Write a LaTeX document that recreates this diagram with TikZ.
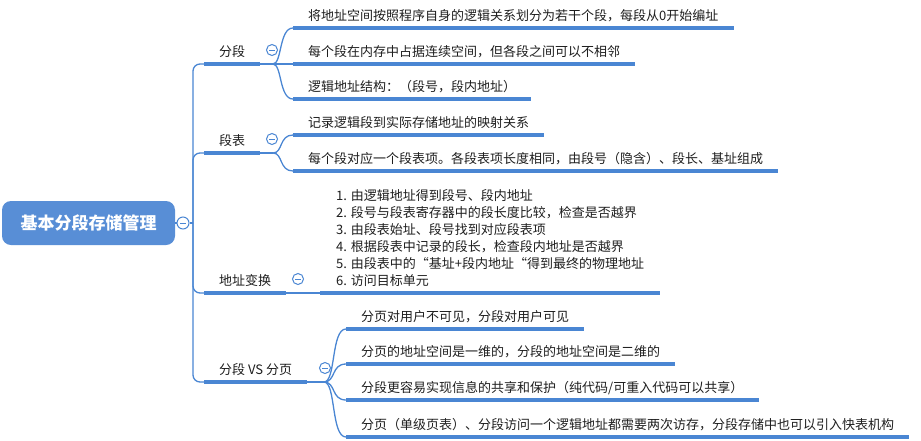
\documentclass[tikz,border=0pt]{standalone}
\usepackage{fontspec}
\setmainfont{Noto Sans CJK SC}
\definecolor{lc}{RGB}{74,134,211}
\definecolor{rootc}{RGB}{88,142,214}
\definecolor{tc}{RGB}{30,30,30}
\tikzset{
 thinline/.style={draw=lc, line width=1.3pt},
 thickline/.style={draw=lc, line width=3.5pt},
 topic/.style={anchor=south west, inner xsep=15pt, inner ysep=4.5pt, text height=9.5pt, text depth=2.5pt, font=\fontsize{13}{16}\selectfont, text=tc},
 multitopic/.style={anchor=south west, inner xsep=16pt, inner ysep=4.5pt, align=left, font=\fontsize{13}{17}\selectfont, text=tc},
 fold/.style={circle, draw=lc, line width=1pt, fill=white, minimum size=11pt, inner sep=0pt,
   path picture={\draw[lc, line width=1pt] ([xshift=-2.6pt]path picture bounding box.center) -- ([xshift=2.6pt]path picture bounding box.center);}},
 rootbox/.style={rectangle, rounded corners=9pt, fill=rootc, text=white, font=\fontsize{17}{20}\selectfont\bfseries, minimum width=173pt, minimum height=44pt, inner sep=0pt},
}
\begin{document}
\begin{tikzpicture}[x=1pt,y=-1pt]
\useasboundingbox (0,0) rectangle (921,440);

% root
\node[rootbox] (root) at (88.5,223) {基本分段存储管理};
\node[fold, minimum size=12pt] (rf) at (183,223) {};
\coordinate (tr) at (193,223);
\draw[thinline] (root.east) -- (rf.west);
\draw[thinline] (rf.east) -- (tr);

% main branches
\node[topic] (fd) at (204,64) {分段};
\node[topic] (db) at (204,153) {段表};
\node[topic] (dz) at (204,293) {地址变换};
\node[topic] (vs) at (204,382) {分段 VS 分页};
\foreach \n in {fd,db,dz,vs}{
  \draw[thinline, rounded corners=7pt] (tr) |- (\n.south west);
  \draw[thickline] (\n.south west) -- (\n.south east);
}
\node[fold] (f1) at (272,50) {};
\node[fold] (f2) at (272,139) {};
\node[fold] (f3) at (298,279) {};
\node[fold] (f4) at (325,368) {};

% 分段 children
\node[topic] (c11) at (293,28) {将地址空间按照程序自身的逻辑关系划分为若干个段，每段从0开始编址};
\node[topic] (c12) at (293,64) {每个段在内存中占据连续空间，但各段之间可以不相邻};
\node[topic] (c13) at (293,99) {逻辑地址结构：（段号，段内地址）};
\coordinate (fdb) at (273,64);
\draw[thinline] (fd.south east) -- (fdb);
\draw[thinline] (fdb) .. controls (282,64) and (279,28) .. (c11.south west);
\draw[thinline] (fdb) -- (c12.south west);
\draw[thinline] (fdb) .. controls (282,64) and (279,99) .. (c13.south west);
\foreach \n in {c11,c12,c13}{\draw[thickline] (\n.south west) -- (\n.south east);}

% 段表 children
\node[topic] (c21) at (293,135) {记录逻辑段到实际存储地址的映射关系};
\node[topic] (c22) at (293,171) {每个段对应一个段表项。各段表项长度相同，由段号（隐含）、段长、基址组成};
\coordinate (dbb) at (273,153);
\draw[thinline] (db.south east) -- (dbb);
\draw[thinline] (dbb) .. controls (283,153) and (279,135) .. (c21.south west);
\draw[thinline] (dbb) .. controls (283,153) and (279,171) .. (c22.south west);
\foreach \n in {c21,c22}{\draw[thickline] (\n.south west) -- (\n.south east);}

% 地址变换 child
\node[multitopic] (c31) at (320,293) {1. 由逻辑地址得到段号、段内地址\\
2. 段号与段表寄存器中的段长度比较，检查是否越界\\
3. 由段表始址、段号找到对应段表项\\
4. 根据段表中记录的段长，检查段内地址是否越界\\
5. 由段表中的“基址+段内地址“得到最终的物理地址\\
6. 访问目标单元\rule[-2.5pt]{0pt}{2.5pt}};
\draw[thinline] (dz.south east) -- (c31.south west);
\draw[thickline] (c31.south west) -- (c31.south east);

% 分段 VS 分页 children
\node[topic] (c41) at (346,329) {分页对用户不可见，分段对用户可见};
\node[topic] (c42) at (346,364) {分页的地址空间是一维的，分段的地址空间是二维的};
\node[topic] (c43) at (346,400) {分段更容易实现信息的共享和保护（纯代码/可重入代码可以共享）};
\node[topic] (c44) at (346,437) {分页（单级页表）、分段访问一个逻辑地址都需要两次访存，分段存储中也可以引入快表机构};
\coordinate (vsb) at (324,382);
\draw[thinline] (vs.south east) -- (vsb);
\draw[thinline] (vsb) .. controls (336,382) and (331,329) .. (c41.south west);
\draw[thinline] (vsb) .. controls (336,382) and (331,364) .. (c42.south west);
\draw[thinline] (vsb) .. controls (336,382) and (331,400) .. (c43.south west);
\draw[thinline] (vsb) .. controls (336,382) and (331,437) .. (c44.south west);
\foreach \n in {c41,c42,c43,c44}{\draw[thickline] (\n.south west) -- (\n.south east);}
\end{tikzpicture}
\end{document}
